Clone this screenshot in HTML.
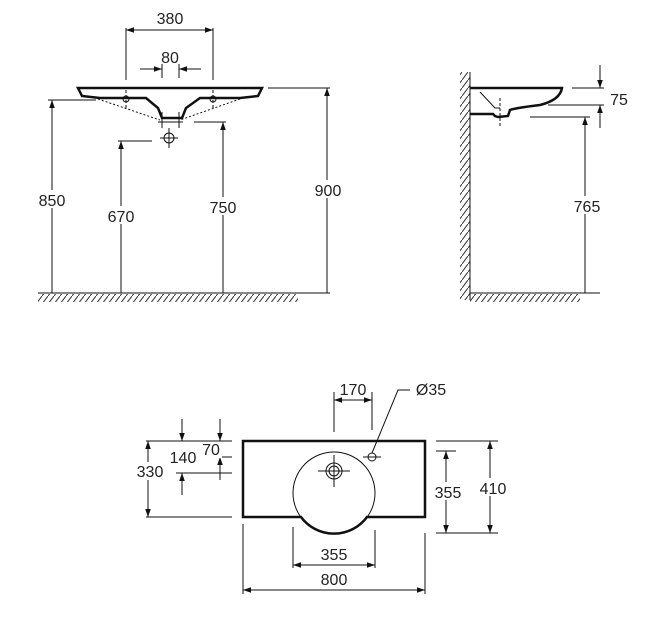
<!DOCTYPE html>
<html><head><meta charset="utf-8"><style>
html,body{margin:0;padding:0;background:#fff}
svg{display:block}
text{font-family:"Liberation Sans",sans-serif;font-size:16px;fill:#222}
</style></head><body>
<svg width="648" height="637" viewBox="0 0 648 637" xmlns="http://www.w3.org/2000/svg">
<defs>
<marker id="a" viewBox="0 0 10 10" refX="10" refY="5" markerWidth="8" markerHeight="8" orient="auto-start-reverse" markerUnits="userSpaceOnUse"><path d="M0,1.5 L10,5 L0,8.5 z" fill="#111"/></marker>
<pattern id="h" width="6" height="8" patternUnits="userSpaceOnUse"><path d="M6,0 L0,8" stroke="#333" stroke-width="1"/></pattern>
</defs>
<g stroke="#111" stroke-width="1" fill="none">
<!-- FRONT VIEW -->
<path d="M78,88 L262,88 L258,96 L240,98 L200,98 L186,108 L182,118 L162,118 L158,108 L146,98 L100,98 L82,96 Z" stroke-width="2.5"/>
<path d="M98,99 L160,120 M240,99 L180,120" stroke-dasharray="2,2"/>
<line x1="126" y1="28" x2="126" y2="80"/><line x1="213" y1="28" x2="213" y2="80"/>
<line x1="126" y1="30" x2="213" y2="30" marker-start="url(#a)" marker-end="url(#a)"/>
<line x1="140" y1="69" x2="162" y2="69" marker-end="url(#a)"/><line x1="201" y1="69" x2="179" y2="69" marker-end="url(#a)"/>
<line x1="162" y1="64" x2="162" y2="78"/><line x1="179" y1="64" x2="179" y2="78"/>
<line x1="162" y1="112" x2="162" y2="128"/><line x1="179" y1="112" x2="179" y2="128"/>
<line x1="158" y1="122" x2="183" y2="122"/>
<circle cx="169" cy="138" r="5"/><line x1="160" y1="138" x2="178" y2="138"/><line x1="169" y1="128" x2="169" y2="148"/>
<circle cx="126" cy="99" r="3"/><circle cx="213" cy="99" r="3"/>
<line x1="126" y1="90" x2="126" y2="110" stroke-dasharray="3,2"/><line x1="213" y1="90" x2="213" y2="110" stroke-dasharray="3,2"/>
<line x1="48" y1="100" x2="96" y2="100"/>
<line x1="52" y1="293" x2="52" y2="100" marker-end="url(#a)"/>
<line x1="118" y1="141" x2="152" y2="141"/>
<line x1="121" y1="293" x2="121" y2="141" marker-end="url(#a)"/>
<line x1="194" y1="122" x2="226" y2="122"/>
<line x1="223" y1="293" x2="223" y2="122" marker-end="url(#a)"/>
<line x1="268" y1="88" x2="330" y2="88"/>
<line x1="327" y1="293" x2="327" y2="88" marker-end="url(#a)"/>
<rect x="38" y="294" width="260" height="8" fill="url(#h)" stroke="none"/>
<line x1="38" y1="293" x2="330" y2="293"/>
<!-- SIDE VIEW -->
<rect x="460" y="72" width="10" height="228" fill="url(#h)" stroke="none"/>
<line x1="470" y1="72" x2="470" y2="300"/>
<path d="M470,88 L562,88 Q560,100 540,105 Q515,108 510,110 L508,116 L498,117 L495,116 L493,114 L470,114" stroke-width="2.5"/>
<path d="M480,92 L495,108 L500,108" />
<line x1="500" y1="98" x2="500" y2="126" stroke-dasharray="3,2"/>
<line x1="572" y1="88" x2="604" y2="88"/><line x1="548" y1="105" x2="604" y2="105"/><line x1="530" y1="117" x2="590" y2="117"/>
<line x1="600" y1="65" x2="600" y2="88" marker-end="url(#a)"/>
<line x1="600" y1="128" x2="600" y2="105" marker-end="url(#a)"/>
<line x1="585" y1="293" x2="585" y2="117" marker-end="url(#a)"/>
<rect x="470" y="294" width="110" height="8" fill="url(#h)" stroke="none"/>
<line x1="470" y1="293" x2="600" y2="293"/>
<!-- TOP VIEW -->
<path d="M243,441 L425,441 L425,517 L367,517 A41,41 0 0 1 301,517 L243,517 Z" stroke-width="2.5"/>
<circle cx="334" cy="493" r="41"/>
<circle cx="334" cy="471" r="8"/><circle cx="334" cy="471" r="5"/>
<line x1="318" y1="471" x2="350" y2="471"/><line x1="334" y1="455" x2="334" y2="487"/>
<circle cx="372" cy="457" r="4"/><line x1="363" y1="457" x2="381" y2="457"/>
<line x1="334" y1="392" x2="334" y2="432"/><line x1="372" y1="392" x2="372" y2="430"/>
<line x1="334" y1="400" x2="372" y2="400" marker-start="url(#a)" marker-end="url(#a)"/>
<path d="M372,453 L398,390 L410,390"/>
<line x1="146" y1="441" x2="232" y2="441"/><line x1="176" y1="473" x2="232" y2="473"/><line x1="205" y1="457" x2="232" y2="457"/><line x1="146" y1="517" x2="232" y2="517"/>
<line x1="148" y1="441" x2="148" y2="517" marker-start="url(#a)" marker-end="url(#a)"/>
<line x1="182" y1="419" x2="182" y2="441" marker-end="url(#a)"/><line x1="182" y1="495" x2="182" y2="473" marker-end="url(#a)"/>
<line x1="220" y1="419" x2="220" y2="441" marker-end="url(#a)"/><line x1="220" y1="480" x2="220" y2="457" marker-end="url(#a)"/>
<line x1="436" y1="441" x2="498" y2="441"/><line x1="436" y1="451" x2="456" y2="451"/><line x1="436" y1="533" x2="498" y2="533"/>
<line x1="446" y1="451" x2="446" y2="533" marker-start="url(#a)" marker-end="url(#a)"/>
<line x1="490" y1="441" x2="490" y2="533" marker-start="url(#a)" marker-end="url(#a)"/>
<line x1="293" y1="527" x2="293" y2="568"/><line x1="375" y1="530" x2="375" y2="568"/>
<line x1="293" y1="565" x2="375" y2="565" marker-start="url(#a)" marker-end="url(#a)"/>
<line x1="243" y1="524" x2="243" y2="594"/><line x1="425" y1="533" x2="425" y2="594"/>
<line x1="243" y1="590" x2="425" y2="590" marker-start="url(#a)" marker-end="url(#a)"/>
</g>
<g text-anchor="middle">
<text x="170" y="24">380</text>
<text x="170" y="63">80</text>
<rect x="33" y="190" width="38" height="18" fill="#fff"/><text x="52" y="206">850</text>
<rect x="102" y="206" width="38" height="18" fill="#fff"/><text x="121" y="222">670</text>
<rect x="204" y="197" width="38" height="18" fill="#fff"/><text x="223" y="213">750</text>
<rect x="308" y="180" width="38" height="18" fill="#fff"/><text x="328" y="196">900</text>
<text x="619" y="105">75</text>
<rect x="566" y="196" width="38" height="18" fill="#fff"/><text x="587" y="212">765</text>
<text x="353" y="395">170</text>
<text x="431" y="395">Ø35</text>
<rect x="134" y="462" width="32" height="18" fill="#fff"/><text x="150" y="477">330</text>
<rect x="168" y="449" width="30" height="18" fill="#fff"/><text x="183" y="463">140</text>
<rect x="202" y="442" width="20" height="16" fill="#fff"/><text x="211" y="455">70</text>
<rect x="432" y="482" width="30" height="18" fill="#fff"/><text x="448" y="498">355</text>
<rect x="477" y="478" width="30" height="18" fill="#fff"/><text x="493" y="494">410</text>
<text x="334" y="560">355</text>
<text x="334" y="585">800</text>
</g>
</svg>
</body></html>
